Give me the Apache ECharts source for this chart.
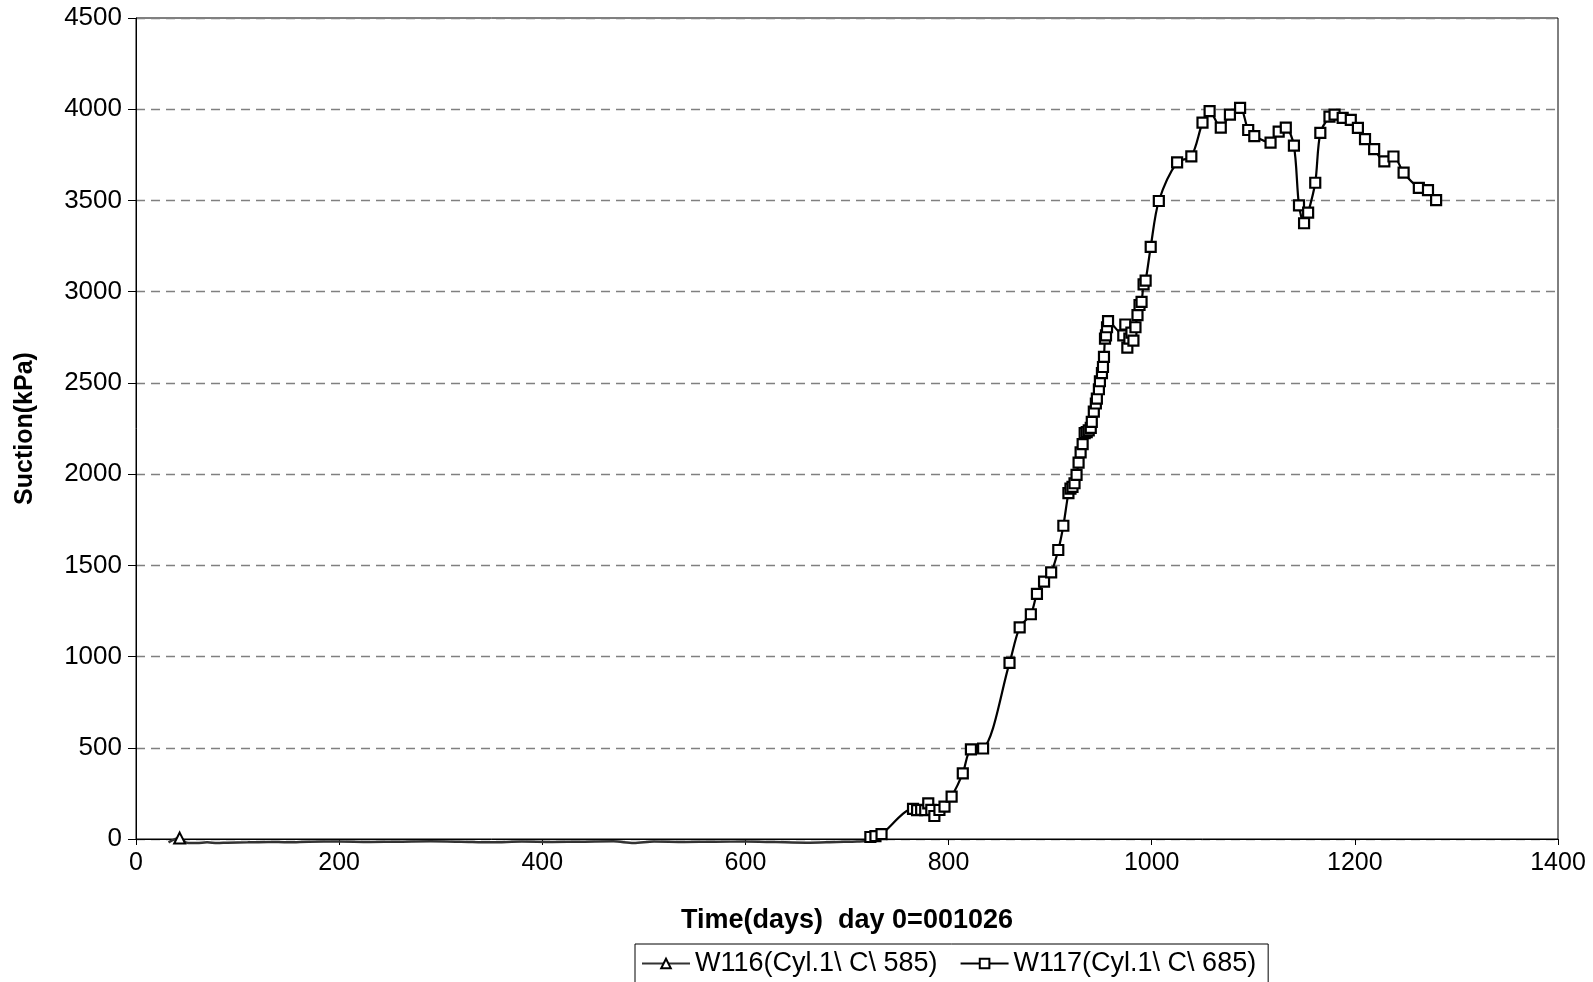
<!DOCTYPE html>
<html>
<head>
<meta charset="utf-8">
<script src="https://cdn.jsdelivr.net/npm/echarts@6/dist/echarts.min.js"></script>
<style>
  html, body { margin: 0; padding: 0; background: #fff; }
  #chart { width: 1593px; height: 982px; }
</style>
</head>
<body>
<div id="chart"></div>
<script>
  // W116 - sits just under zero, marker only shown at the one point near day 43
  var w116Days = [32, 43, 50, 60, 70, 80, 90, 110, 130, 150, 170, 200, 230, 260, 290, 320, 350, 380, 410, 440, 470, 490, 510, 540, 570, 600, 630, 660, 690, 710, 725];
  var w116Suction = [-18, 5, -20, -22, -18, -22, -20, -18, -16, -18, -15, -14, -16, -15, -13, -15, -18, -14, -16, -15, -13, -22, -14, -16, -15, -14, -17, -20, -16, -14, -8];
  var w116Marked = [43];

  // W117
  var w117Days = [723, 728, 734, 765, 769, 773, 777, 780, 783, 786, 791, 796, 803, 814, 822, 834, 860, 870, 881, 887, 894, 901, 908, 913, 918, 920, 922, 924, 926, 928, 930, 932, 934, 936, 938, 940, 941, 943, 945, 946, 948, 949, 951, 952, 953, 954, 955, 956, 957, 972, 974, 976, 978, 980, 982, 984, 986, 988, 990, 992, 994, 999, 1007, 1025, 1039, 1050, 1057, 1068, 1077, 1087, 1095, 1101, 1117, 1125, 1132, 1140, 1145, 1150, 1154, 1161, 1166, 1175, 1180, 1188, 1196, 1203, 1210, 1219, 1229, 1238, 1248, 1263, 1272, 1280];
  var w117Suction = [11, 16, 27, 165, 158, 160, 158, 195, 160, 126, 159, 177, 232, 360, 491, 496, 965, 1160, 1232, 1344, 1411, 1461, 1584, 1717, 1896, 1920, 1930, 1950, 1996, 2063, 2119, 2164, 2225, 2230, 2240, 2253, 2286, 2342, 2387, 2414, 2465, 2509, 2554, 2587, 2643, 2743, 2760, 2805, 2838, 2760, 2820, 2693, 2743, 2776, 2732, 2805, 2871, 2927, 2944, 3040, 3061, 3245, 3497, 3709, 3742, 3926, 3990, 3899, 3970, 4007, 3886, 3853, 3817, 3877, 3899, 3800, 3473, 3375, 3433, 3597, 3870, 3959, 3970, 3953, 3942, 3898, 3836, 3781, 3714, 3741, 3652, 3569, 3557, 3502];

  var fontName = "'Liberation Sans', Arial, sans-serif";

  var w116Data = w116Days.map(function(d, i){
    var item = { value: [d, w116Suction[i]] };
    if (w116Marked.indexOf(d) < 0) item.symbol = 'none';
    return item;
  });
  var w117Data = w117Days.map(function(d, i){ return [d, w117Suction[i]]; });

  var myChart = echarts.init(document.getElementById('chart'));
  var chartOption = {
    animation: false,
    backgroundColor: '#fff',
    textStyle: { fontFamily: fontName },
    grid: {
      left: 136, right: 35, top: 18, bottom: 143,
      show: true, borderColor: '#000', borderWidth: 1
    },
    legend: {
      bottom: -1,
      left: 635,
      itemWidth: 48,
      itemHeight: 12,
      itemGap: 22,
      padding: [6, 12, 6, 6],
      borderColor: '#000',
      borderWidth: 1,
      textStyle: { fontSize: 27, color: '#000', fontFamily: fontName },
      data: ['W116(Cyl.1\\ C\\ 585)', 'W117(Cyl.1\\ C\\ 685)']
    },
    xAxis: {
      type: 'value',
      min: 0, max: 1400, interval: 200,
      name: 'Time(days)  day 0=001026',
      nameLocation: 'middle',
      nameGap: 68,
      nameTextStyle: { fontSize: 27, fontWeight: 'bold', color: '#000', fontFamily: fontName },
      axisLine: { onZero: false, lineStyle: { color: '#000', width: 1 } },
      axisTick: { show: true, length: 6, lineStyle: { color: '#000' } },
      axisLabel: { fontSize: 25, color: '#000', margin: 12, formatter: function(v){ return String(v); } },
      splitLine: { show: false }
    },
    yAxis: {
      type: 'value',
      min: 0, max: 4500, interval: 500,
      name: 'Suction(kPa)',
      nameLocation: 'middle',
      nameGap: 98,
      nameRotate: 90,
      nameTextStyle: { fontSize: 25, fontWeight: 'bold', color: '#000', fontFamily: fontName },
      axisLine: { show: true, lineStyle: { color: '#000', width: 1 } },
      axisTick: { show: true, length: 8, lineStyle: { color: '#000' } },
      axisLabel: { fontSize: 26, color: '#000', margin: 14, formatter: function(v){ return String(v); } },
      splitLine: { show: true, lineStyle: { color: '#808080', type: [9, 6], width: 1.3 } }
    },
    series: [
      {
        name: 'W116(Cyl.1\\ C\\ 585)',
        type: 'line',
        clip: false,
        smooth: 0.3,
        symbol: 'triangle',
        symbolSize: 11,
        itemStyle: { color: '#fff', borderColor: '#000', borderWidth: 2 },
        lineStyle: { color: '#333', width: 2.5 },
        data: w116Data
      },
      {
        name: 'W117(Cyl.1\\ C\\ 685)',
        type: 'line',
        smooth: 0.3,
        symbol: 'rect',
        symbolSize: 10,
        itemStyle: { color: '#fff', borderColor: '#000', borderWidth: 2.2 },
        lineStyle: { color: '#000', width: 2.2 },
        data: w117Data
      }
    ]
  };
  myChart.setOption(chartOption);
</script>
</body>
</html>
